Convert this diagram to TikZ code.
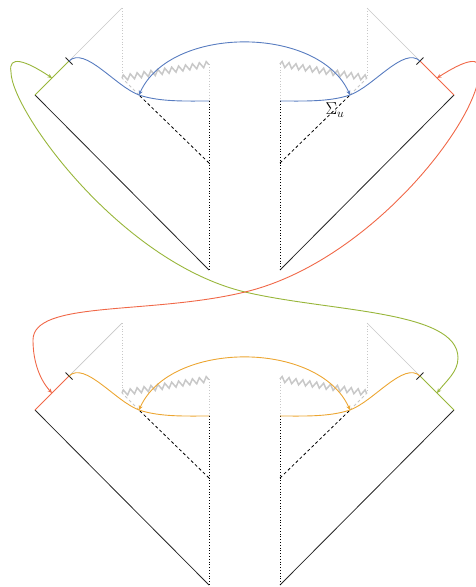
\documentclass[tikz,border=0pt]{standalone}
\usetikzlibrary{decorations.pathmorphing,arrows.meta,calc}
\definecolor{cblue}{RGB}{88,124,192}
\definecolor{cgreen}{RGB}{152,182,58}
\definecolor{cred}{RGB}{240,104,72}
\definecolor{corange}{RGB}{236,166,50}
\definecolor{lgray}{RGB}{200,200,200}
\tikzset{
  bdry/.style={line width=0.8pt, black!85},
  horizon/.style={line width=0.7pt, lgray},
  dotl/.style={lgray, line width=0.8pt, dash pattern=on 0.8pt off 2pt},
  dotb/.style={black, line width=0.8pt, dash pattern=on 0.8pt off 2pt},
  dsh/.style={black, line width=0.8pt, dash pattern=on 3pt off 2.5pt},
  dshl/.style={lgray, line width=0.8pt, dash pattern=on 3pt off 2.5pt},
  sing/.style={lgray, line width=1.5pt, decorate, decoration={zigzag, segment length=7pt, amplitude=2.8pt}},
  tickmark/.style={black!85, line width=0.9pt},
  seg/.style={line width=1pt},
  wave/.style={line width=0.9pt},
  conn/.style={line width=0.9pt, {Stealth[length=4.5pt,width=4pt,inset=1.5pt]}-{Stealth[length=4.5pt,width=4pt,inset=1.5pt]}},
}
\newcommand\penrosepanel[5]{%
\begin{scope}[yshift=#1]
  % left half
  \coordinate (A#2) at (35,-95);
  \coordinate (T#2) at (69,-61);
  \coordinate (G#2) at (122,-8);
  \coordinate (Za#2) at (122,-78);
  \coordinate (Zb#2) at (209,-64);
  \coordinate (P#2) at (209,-101);
  \coordinate (B#2) at (209,-270);
  \coordinate (D#2) at (209,-163);
  \coordinate (C#2) at (139,-95);
  \coordinate (M#2) at (52,-78);
  % right half
  \coordinate (RA#2) at (454,-95);
  \coordinate (RT#2) at (420,-61);
  \coordinate (RG#2) at (367,-8);
  \coordinate (RZa#2) at (367,-78);
  \coordinate (RZb#2) at (280,-64);
  \coordinate (RP#2) at (280,-101);
  \coordinate (RB#2) at (280,-270);
  \coordinate (RD#2) at (280,-163);
  \coordinate (RC#2) at (350,-95);
  \coordinate (RM#2) at (437,-78);
  % left
  \draw[bdry] (A#2) -- (B#2);
  \draw[horizon] (T#2) -- (G#2);
  \draw[dotl] (G#2) -- (Za#2);
  \draw[sing] (Za#2) -- (Zb#2);
  \draw[dotl] (Zb#2) -- (P#2);
  \draw[dotb] (P#2) -- (B#2);
  \draw[dsh] (D#2) -- (C#2);
  \draw[dshl] (C#2) -- (Za#2);
  \draw[seg,#3] (A#2) -- (T#2);
  \draw[tickmark] ($(T#2)+(-3.5,3.5)$) -- ($(T#2)+(3.5,-3.5)$);
  \draw[wave,#5] (T#2) .. controls (85,-46) and (115,-86) .. (C#2)
        .. controls (160,-102) and (185,-101) .. (P#2);
  % right
  \draw[bdry] (RA#2) -- (RB#2);
  \draw[horizon] (RT#2) -- (RG#2);
  \draw[dotl] (RG#2) -- (RZa#2);
  \draw[sing] (RZb#2) -- (RZa#2);
  \draw[dotl] (RZb#2) -- (RP#2);
  \draw[dotb] (RP#2) -- (RB#2);
  \draw[dsh] (RD#2) -- (RC#2);
  \draw[dshl] (RC#2) -- (RZa#2);
  \draw[seg,#4] (RA#2) -- (RT#2);
  \draw[tickmark] ($(RT#2)+(-3.5,-3.5)$) -- ($(RT#2)+(3.5,3.5)$);
  \draw[wave,#5] (RT#2) .. controls (404,-46) and (374,-86) .. (RC#2)
        .. controls (329,-102) and (304,-101) .. (RP#2);
  % arc
  \draw[conn,#5] (C#2) .. controls (170,-25) and (319,-25) .. (RC#2);
\end{scope}}
\begin{document}
\begin{tikzpicture}[x=1pt,y=1pt]
  \useasboundingbox (0,0) rectangle (475,-587);
  \penrosepanel{0pt}{t}{cgreen}{cred}{cblue}
  \penrosepanel{-315pt}{b}{cred}{cgreen}{corange}
  \node[font=\LARGE, inner sep=0pt] (sigma) at (335,-110) {$\Sigma_u$};
  % long connectors
  \draw[conn,cgreen] (Mt) .. controls (25,-60) and (8,-55) .. (11,-72)
      .. controls (11,-110) and (120,-262) .. (245,-292)
      .. controls (330,-312) and (458,-310) .. (458,-358)
      .. controls (458,-372) and (446,-381) .. (RMb);
  \draw[conn,cred] (RMt) .. controls (465,-60) and (482,-55) .. (479,-72)
      .. controls (479,-120) and (370,-262) .. (245,-292)
      .. controls (150,-315) and (33,-300) .. (33,-340)
      .. controls (33,-362) and (40,-380) .. (Mb);
\end{tikzpicture}
\end{document}
